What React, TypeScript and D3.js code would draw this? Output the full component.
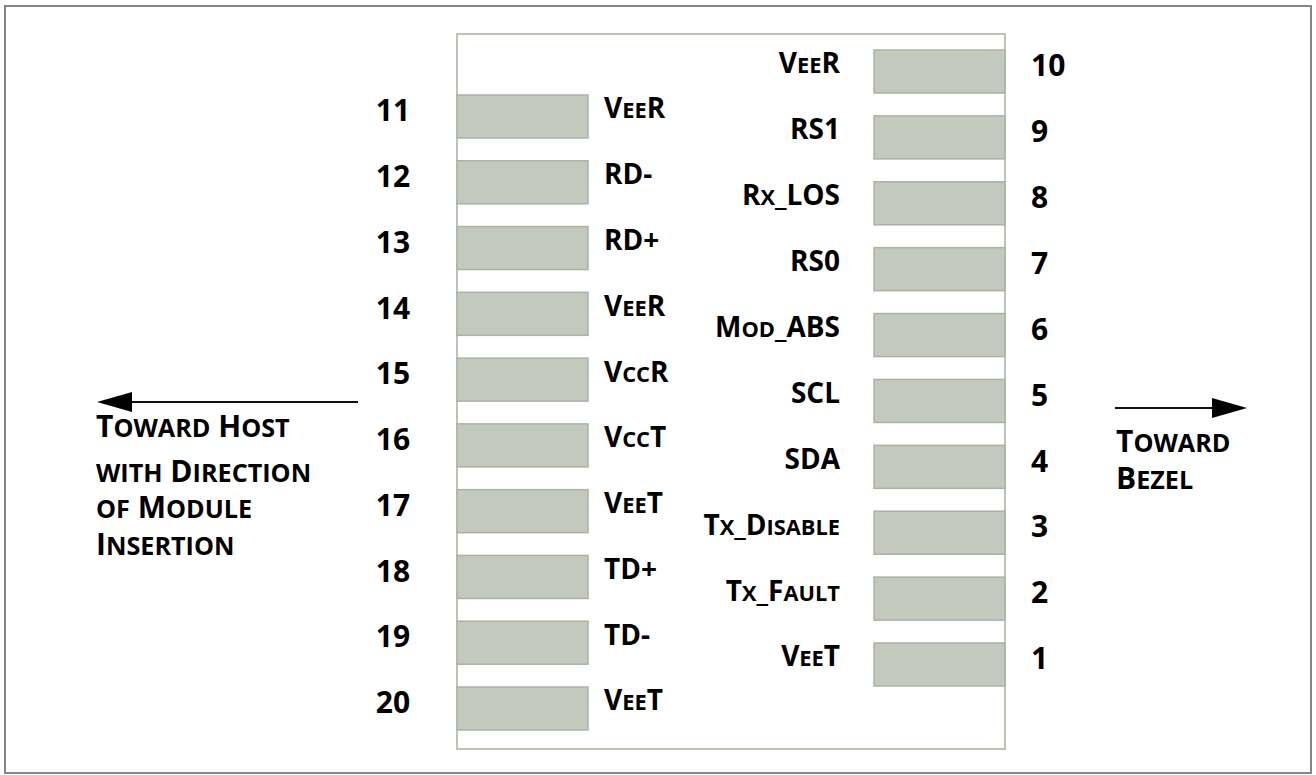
import React from "react";
import * as d3 from "d3";

const leftPins = [11, 12, 13, 14, 15, 16, 17, 18, 19, 20];
const leftLabels = ["VeeR", "RD-", "RD+", "VeeR", "VccR", "VccT", "VeeT", "TD+", "TD-", "VeeT"];
const rightPins = [10, 9, 8, 7, 6, 5, 4, 3, 2, 1];
const rightLabels = ["VeeR", "RS1", "Rx_LOS", "RS0", "Mod_ABS", "SCL", "SDA", "Tx_Disable", "Tx_Fault", "VeeT"];
const hostText = ["Toward Host", "with Direction", "of Module", "Insertion"];
const bezelText = ["Toward", "Bezel"];

const FONT = "'Open Sans', 'Noto Sans', sans-serif";

function SmallCaps({ text, size, x, y, anchor, ratio }: { text: string; size: number; x: number; y: number; anchor: string; ratio: number }) {
  const runs: { s: string; small: boolean }[] = [];
  for (const ch of text) {
    const small = ch >= "a" && ch <= "z";
    const last = runs[runs.length - 1];
    if (last && last.small === small) last.s += ch;
    else runs.push({ s: ch, small });
  }
  return (
    <text x={x} y={y} textAnchor={anchor} fontFamily={FONT} fontWeight={700} fontSize={size} fill="#000">
      {runs.map((r, i) => (
        <tspan key={i} fontSize={r.small ? size * ratio : size}>
          {r.small ? r.s.toUpperCase() : r.s}
        </tspan>
      ))}
    </text>
  );
}

export default function App() {
  React.useEffect(() => {
    document.body.style.margin = "0";
  }, []);
  const W = 1316;
  const H = 775;
  const padH = 43;
  const yLeft = d3.scaleLinear().domain([11, 20]).range([95, 687]);
  const yRight = d3.scaleLinear().domain([10, 1]).range([50, 643]);
  const labelSize = 28;
  const numSize = 30;
  const noteSize = 30;
  const cap = (s: number) => s * 0.357;

  const leftArrow = d3.line()([[358, 402], [125, 402]]) as string;
  const rightArrow = d3.line()([[1115, 408], [1220, 408]]) as string;
  const hostBaselines = [437, 482, 518, 555];
  const bezelBaselines = [452, 489];

  return (
    <svg width={W} height={H} style={{ display: "block" }}>
      <rect x={0} y={0} width={W} height={H} fill="#fff" />
      <rect x={5} y={6} width={1306} height={767} fill="none" stroke="#858585" strokeWidth={2} />
      <rect x={457} y={34} width={548} height={715} fill="none" stroke="#bcc4b6" strokeWidth={2} />
      {leftPins.map((p, i) => {
        const y0 = yLeft(p);
        const cy = y0 + padH / 2;
        return (
          <g key={"l" + p}>
            <rect x={457} y={y0} width={131} height={padH} fill="#c4c9bd" stroke="#abb2a5" strokeWidth={1.5} />
            <text x={393} y={cy - 6 + cap(numSize)} textAnchor="middle" fontFamily={FONT} fontWeight={700} fontSize={numSize}>
              {p}
            </text>
            <SmallCaps text={leftLabels[i]} size={labelSize} ratio={0.78} x={604} y={cy - 8 + cap(labelSize)} anchor="start" />
          </g>
        );
      })}
      {rightPins.map((p, i) => {
        const y0 = yRight(p);
        const cy = y0 + padH / 2;
        return (
          <g key={"r" + p}>
            <rect x={874} y={y0} width={131} height={padH} fill="#c4c9bd" stroke="#abb2a5" strokeWidth={1.5} />
            <text x={1031} y={cy - 6 + cap(numSize)} textAnchor="start" fontFamily={FONT} fontWeight={700} fontSize={numSize}>
              {p}
            </text>
            <SmallCaps text={rightLabels[i]} size={labelSize} ratio={0.78} x={840} y={cy - 8 + cap(labelSize)} anchor="end" />
          </g>
        );
      })}
      <path d={leftArrow} stroke="#111" strokeWidth={2} fill="none" />
      <path d="M97,402 L132,392 L132,412 Z" fill="#000" />
      {hostText.map((t, i) => (
        <SmallCaps key={t} text={t} size={noteSize} ratio={0.84} x={96} y={hostBaselines[i]} anchor="start" />
      ))}
      <path d={rightArrow} stroke="#111" strokeWidth={2} fill="none" />
      <path d="M1247,408 L1212,398 L1212,418 Z" fill="#000" />
      {bezelText.map((t, i) => (
        <SmallCaps key={t} text={t} size={noteSize} ratio={0.84} x={1116} y={bezelBaselines[i]} anchor="start" />
      ))}
    </svg>
  );
}
